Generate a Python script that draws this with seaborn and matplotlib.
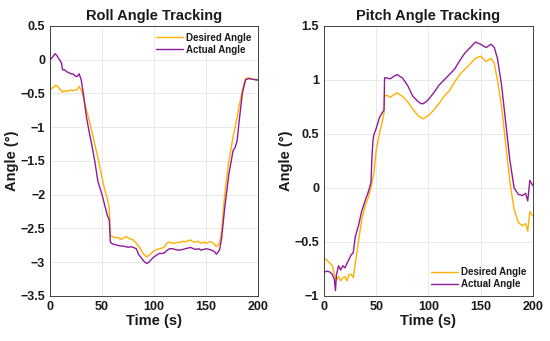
import numpy as np
import pandas as pd
import seaborn as sns
import matplotlib
matplotlib.use("Agg")
import matplotlib.pyplot as plt

# Roll tracking
roll_t = [0, 2, 4, 5, 7, 9, 11, 12, 14, 16, 18, 20, 22, 24, 26, 28, 30, 32, 35, 38, 40,
          43, 46, 50, 53, 55, 57, 58, 60, 63, 65, 68, 70, 73, 75, 78, 80, 83, 85, 88, 90,
          93, 95, 98, 100, 103, 105, 108, 110, 113, 115, 118, 120, 123, 125, 128, 130,
          133, 135, 138, 140, 143, 145, 148, 150, 153, 155, 158, 160, 163, 165, 168,
          172, 176, 178, 180, 182, 185, 188, 191, 195, 198, 200]
roll_desired = [-0.45, -0.42, -0.40, -0.38, -0.39, -0.43, -0.46, -0.48, -0.46, -0.47, -0.46,
                -0.45, -0.46, -0.45, -0.44, -0.40, -0.45, -0.55, -0.75, -0.92, -1.05,
                -1.25, -1.45, -1.75, -1.95, -2.05, -2.2, -2.6, -2.62, -2.64, -2.63, -2.66,
                -2.65, -2.62, -2.64, -2.66, -2.67, -2.72, -2.76, -2.83, -2.88,
                -2.92, -2.90, -2.86, -2.83, -2.81, -2.80, -2.79, -2.77, -2.71, -2.70, -2.72,
                -2.72, -2.70, -2.71, -2.69, -2.70, -2.68, -2.67, -2.70, -2.70, -2.69,
                -2.72, -2.70, -2.72, -2.70, -2.70, -2.73, -2.77, -2.72, -2.55, -2.0,
                -1.5, -1.15, -1.0, -0.85, -0.68, -0.45, -0.28, -0.27, -0.29, -0.29, -0.30]
roll_actual = [0.0, 0.03, 0.07, 0.09, 0.05, 0.0, -0.05, -0.15, -0.15, -0.18, -0.19, -0.21,
               -0.21, -0.24, -0.25, -0.21, -0.30, -0.50, -0.85, -1.10, -1.25,
               -1.50, -1.80, -2.00, -2.18, -2.30, -2.38, -2.70, -2.73, -2.74, -2.75, -2.76,
               -2.76, -2.77, -2.78, -2.77, -2.78, -2.80, -2.88, -2.94, -2.98,
               -3.02, -3.00, -2.95, -2.92, -2.89, -2.87, -2.87, -2.86, -2.82, -2.80, -2.80,
               -2.81, -2.82, -2.82, -2.81, -2.80, -2.79, -2.78, -2.80, -2.81, -2.80,
               -2.82, -2.81, -2.80, -2.81, -2.82, -2.84, -2.88, -2.82, -2.65, -2.20,
               -1.70, -1.35, -1.30, -1.20, -0.90, -0.50, -0.30, -0.28, -0.29, -0.30, -0.30]

# Pitch tracking
pitch_t = [0, 3, 6, 8, 10, 11, 12, 14, 16, 18, 20, 22, 24, 26, 28, 30, 33, 36, 38, 40, 42,
           45, 46, 47, 48, 50, 53, 56, 57.5, 58, 60, 63, 65, 68, 70, 73, 75, 80, 85, 90,
           93, 95, 98, 100, 105, 110, 115, 120, 125, 130, 135, 140, 145, 150, 155, 160,
           163, 166, 170, 174, 178, 182, 186, 190, 193, 195, 197, 200]
pitch_desired = [-0.65, -0.67, -0.70, -0.72, -0.80, -0.84, -0.85, -0.82, -0.86, -0.83, -0.82,
                 -0.86, -0.80, -0.80, -0.83, -0.70, -0.50, -0.30, -0.22, -0.15, -0.10,
                 0.00, 0.05, 0.10, 0.15, 0.35, 0.50, 0.62, 0.70, 0.85, 0.86, 0.84, 0.85,
                 0.87, 0.88, 0.86, 0.85, 0.80, 0.73, 0.67, 0.65, 0.64, 0.66, 0.67, 0.72,
                 0.78, 0.85, 0.90, 0.98, 1.05, 1.10, 1.15, 1.20, 1.22, 1.17, 1.20, 1.15,
                 1.00, 0.75, 0.40, 0.05, -0.20, -0.32, -0.35, -0.33, -0.40, -0.22, -0.26]
pitch_actual = [-0.78, -0.77, -0.78, -0.80, -0.85, -0.95, -0.80, -0.72, -0.76, -0.72, -0.74,
                -0.70, -0.66, -0.62, -0.60, -0.45, -0.35, -0.22, -0.16, -0.10, -0.05,
                0.05, 0.30, 0.45, 0.50, 0.55, 0.65, 0.70, 0.72, 1.02, 1.02, 1.01, 1.02,
                1.04, 1.05, 1.03, 1.02, 0.95, 0.85, 0.80, 0.78, 0.78, 0.80, 0.82, 0.88,
                0.95, 1.00, 1.05, 1.10, 1.18, 1.25, 1.30, 1.35, 1.33, 1.30, 1.33, 1.30,
                1.20, 0.95, 0.60, 0.25, 0.00, -0.06, -0.07, -0.05, -0.12, 0.07, 0.02]

series_names = ["Desired Angle", "Actual Angle"]
colors = ["#FFB000", "#8E1C9A"]

sns.set_style("white")
plt.rcParams["font.family"] = ["Liberation Sans", "DejaVu Sans"]
plt.rcParams["font.weight"] = "bold"
plt.rcParams["text.color"] = "#1a1a1a"
plt.rcParams["axes.labelcolor"] = "#1a1a1a"
plt.rcParams["xtick.color"] = "#1a1a1a"
plt.rcParams["ytick.color"] = "#1a1a1a"

def make_df(t, des, act):
    return pd.concat([
        pd.DataFrame({"t": t, "angle": des, "series": series_names[0]}),
        pd.DataFrame({"t": t, "angle": act, "series": series_names[1]}),
    ])

fig = plt.figure(figsize=(5.5, 3.41), dpi=100)
ax1 = fig.add_axes([0.091, 0.132, 0.378, 0.792])
ax2 = fig.add_axes([0.589, 0.132, 0.380, 0.792])

panels = [
    (ax1, make_df(roll_t, roll_desired, roll_actual), "Roll Angle Tracking",
     (-3.5, 0.5), "upper right"),
    (ax2, make_df(pitch_t, pitch_desired, pitch_actual), "Pitch Angle Tracking",
     (-1, 1.5), "lower right"),
]

for ax, df, title, ylim, loc in panels:
    sns.lineplot(data=df, x="t", y="angle", hue="series", palette=colors,
                 linewidth=1.0, ax=ax)
    ax.set_xlim(0, 200)
    ax.set_ylim(*ylim)
    ax.set_xticks([0, 50, 100, 150, 200])
    ax.set_yticks(np.arange(ylim[0], ylim[1] + 0.01, 0.5))
    ax.yaxis.set_major_formatter(matplotlib.ticker.FuncFormatter(
        lambda v, p: ("%g" % v).replace("-", "\u2212")))
    ax.grid(True, color="#e6e6e6", linewidth=0.6)
    ax.tick_params(direction="in", length=3, labelsize=9, width=0.6)
    for s in ax.spines.values():
        s.set_color("#262626")
        s.set_linewidth(0.6)
    ax.set_title(title, fontsize=10.5, fontweight="bold", pad=4)
    ax.set_xlabel("Time (s)", fontsize=10.5, fontweight="bold", labelpad=1)
    ax.set_ylabel("Angle (°)", fontsize=10.5, fontweight="bold", labelpad=1)
    leg = ax.legend(loc=loc, frameon=False, fontsize=7, handlelength=2.8,
                    handletextpad=0.3, labelspacing=0.2, borderaxespad=0.3)
    for line in leg.get_lines():
        line.set_linewidth(1.0)

fig.savefig("out.png", dpi=100)
